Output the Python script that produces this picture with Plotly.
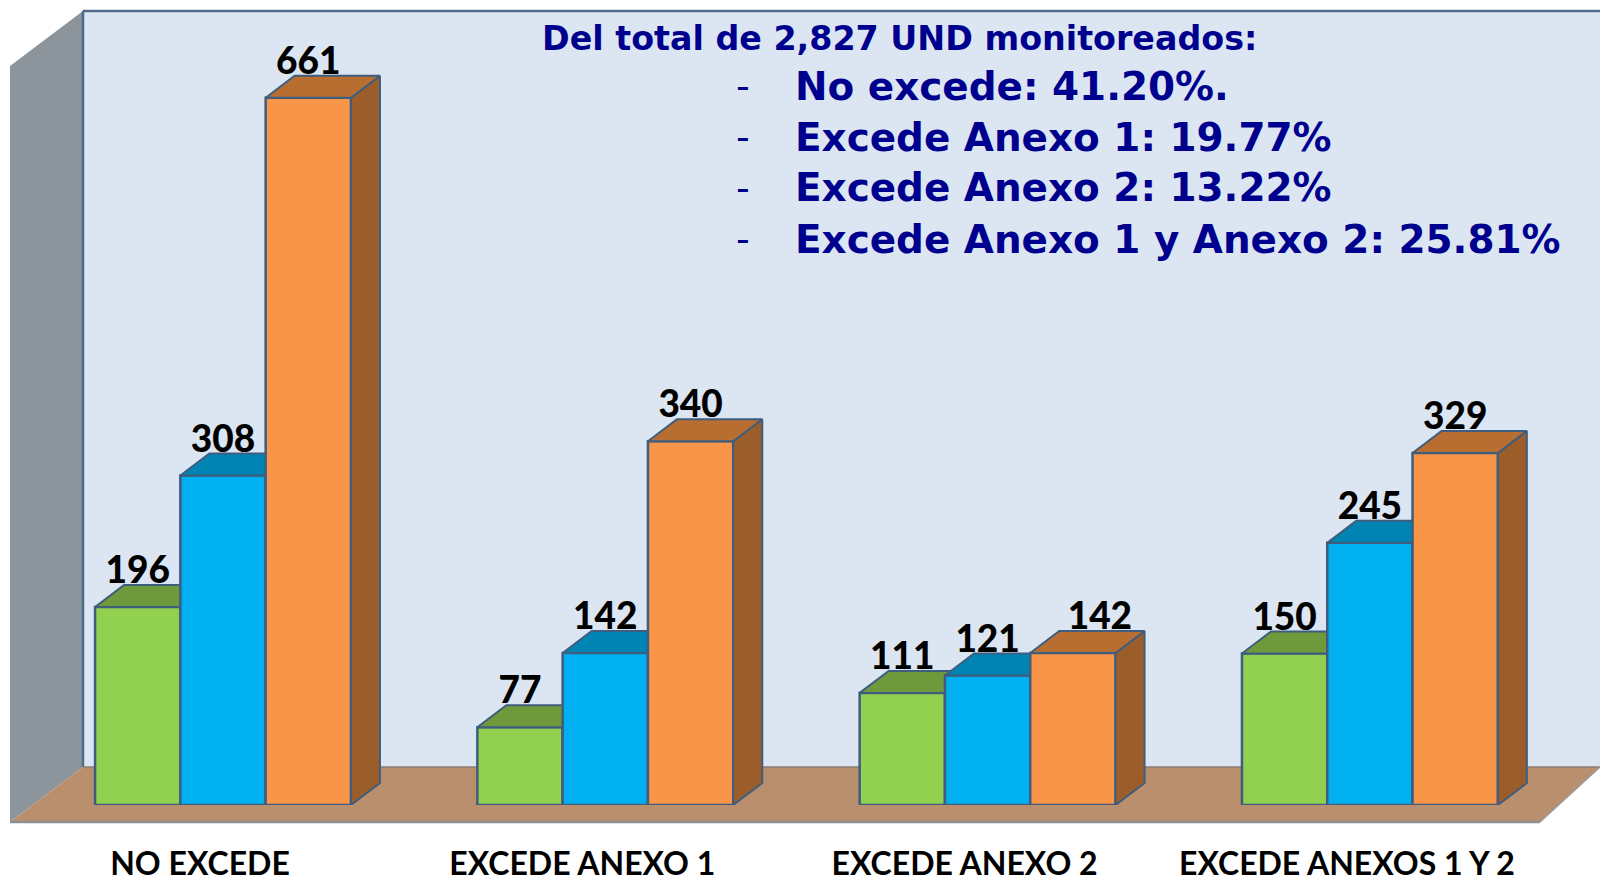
import plotly.graph_objects as go

categories = ["NO EXCEDE", "EXCEDE ANEXO 1", "EXCEDE ANEXO 2", "EXCEDE ANEXOS 1 Y 2"]
verde = [196, 77, 111, 150]
azul = [308, 142, 121, 245]
naranja = [661, 340, 142, 329]
nota_titulo = "Del total de 2,827 UND monitoreados:"
nota_items = ["No excede: 41.20%.", "Excede Anexo 1: 19.77%", "Excede Anexo 2: 13.22%",
              "Excede Anexo 1 y Anexo 2: 25.81%"]

W, H = 1600, 882
BASE = 805
GROUP_PX = 382.3
LEFT_PX = 223
BAR_PX = 85.3
DEPTH_X, DEPTH_Y = 29, 22
EDGE = "#3F5D7E"

px2x = lambda p: p / GROUP_PX
bw = px2x(BAR_PX)

series = [
    dict(vals=verde, off=-1, scale=1.01, axis="y", front="#92D050", top="#6F9A3B", side="#6F9A3B",
         label_dx=[0, 0, 0, 0]),
    dict(vals=azul, off=0, scale=1.07, axis="y2", front="#00B0F0", top="#0084B4", side="#0084B4",
         label_dx=[0, 0, 0, 0]),
    dict(vals=naranja, off=1, scale=1.07, axis="y3", front="#F99548", top="#B96E31", side="#9B5E2B",
         label_dx=[0, 0, 27, 0]),
]

fig = go.Figure()
for s in series:
    xs = [i + s["off"] * bw for i in range(len(categories))]
    k = s["scale"]
    fig.add_trace(go.Bar(x=xs, y=s["vals"], width=bw, yaxis=s["axis"],
                         marker=dict(color=s["front"], line=dict(color=EDGE, width=2.5)),
                         hoverinfo="skip", showlegend=False))
    dx, dy = px2x(DEPTH_X), DEPTH_Y / k
    tx, ty, sx, sy = [], [], [], []
    for x, v in zip(xs, s["vals"]):
        l, r = x - bw / 2, x + bw / 2
        tx += [l, r, r + dx, l + dx, l, None]
        ty += [v, v, v + dy, v + dy, v, None]
        sx += [r, r + dx, r + dx, r, r, None]
        sy += [0, dy, v + dy, v, 0, None]
    fig.add_trace(go.Scatter(x=sx, y=sy, yaxis=s["axis"], mode="lines", fill="toself",
                             fillcolor=s["side"], line=dict(color=EDGE, width=2),
                             hoverinfo="skip", showlegend=False))
    fig.add_trace(go.Scatter(x=tx, y=ty, yaxis=s["axis"], mode="lines", fill="toself",
                             fillcolor=s["top"], line=dict(color=EDGE, width=2),
                             hoverinfo="skip", showlegend=False))
    fig.add_trace(go.Scatter(x=[x + px2x(d) for x, d in zip(xs, s["label_dx"])],
                             y=[v + 33 / k for v in s["vals"]], yaxis=s["axis"], mode="text",
                             text=[str(v) for v in s["vals"]], textposition="middle center",
                             textfont=dict(family="Lato", size=37, color="#000000", weight=900),
                             hoverinfo="skip", showlegend=False))


def pt(px, py):
    return f"{px / W:.5f} {(BASE - py) / BASE:.5f}"


def poly(points, fill, line=None, width=0):
    d = "M " + " L ".join(pt(*p) for p in points) + " Z"
    return dict(type="path", path=d, xref="paper", yref="paper", fillcolor=fill, layer="below",
                line=dict(color=line or fill, width=width))


def seg(a, b, color, width):
    return dict(type="path", path=f"M {pt(*a)} L {pt(*b)}", xref="paper", yref="paper", layer="below",
                line=dict(color=color, width=width))


shapes = [
    poly([(83, 11), (1600, 11), (1600, 767), (83, 767)], "#DCE6F2"),
    poly([(10, 66), (83, 11), (83, 767), (10, 822)], "#8C949C"),
    poly([(10, 822), (83, 767), (1600, 767), (1540, 822)], "#BA8F6E"),
    seg((83, 11), (1600, 11), "#4F6B8A", 2.5),
    seg((83, 11), (83, 767), "#4F6B8A", 2.5),
    seg((83, 767), (1600, 767), "#8A7C72", 1.5),
    seg((10, 822), (1540, 822), "#8E8E8E", 2.5),
    seg((1540, 822), (1600, 767), "#9A9A9A", 1.5),
]

annotations = [dict(x=540 / W, y=(BASE - 38) / BASE, xref="paper", yref="paper", xanchor="left",
                    yanchor="middle", text=nota_titulo, showarrow=False,
                    font=dict(family="DejaVu Sans", size=33.3, color="#00008F", weight="bold"))]
for py, item in zip([86, 137, 188, 239], nota_items):
    annotations.append(dict(x=734 / W, y=(BASE - py) / BASE, xref="paper", yref="paper", xanchor="left",
                            yanchor="middle", text="-", showarrow=False,
                            font=dict(family="DejaVu Sans", size=38, color="#00008F")))
    annotations.append(dict(x=793 / W, y=(BASE - py) / BASE, xref="paper", yref="paper", xanchor="left",
                            yanchor="middle", text=item, showarrow=False,
                            font=dict(family="DejaVu Sans", size=38.9, color="#00008F", weight="bold")))

hidden = dict(visible=False, fixedrange=True, automargin=False)
fig.update_layout(
    width=W, height=H, autosize=False,
    margin=dict(l=0, r=0, t=0, b=H - BASE, pad=0, autoexpand=False),
    paper_bgcolor="#FFFFFF", plot_bgcolor="rgba(0,0,0,0)",
    showlegend=False, barmode="overlay",
    shapes=shapes, annotations=annotations,
    xaxis=dict(range=[-LEFT_PX / GROUP_PX, (W - LEFT_PX) / GROUP_PX], showgrid=False, zeroline=False,
               showline=False, tickmode="array", automargin=False,
               tickvals=[i - 23 / GROUP_PX for i in range(len(categories))], ticktext=categories,
               ticks="", ticklabelstandoff=37,
               tickfont=dict(family="Lato", size=32, color="#000000", weight="bold")),
    yaxis=dict(range=[0, BASE / series[0]["scale"]], **hidden),
    yaxis2=dict(range=[0, BASE / series[1]["scale"]], overlaying="y", **hidden),
    yaxis3=dict(range=[0, BASE / series[2]["scale"]], overlaying="y", **hidden),
)
fig.write_html("out.html", config=dict(displayModeBar=False),
               post_script="document.body.style.margin='0';document.body.style.overflow='hidden';")
